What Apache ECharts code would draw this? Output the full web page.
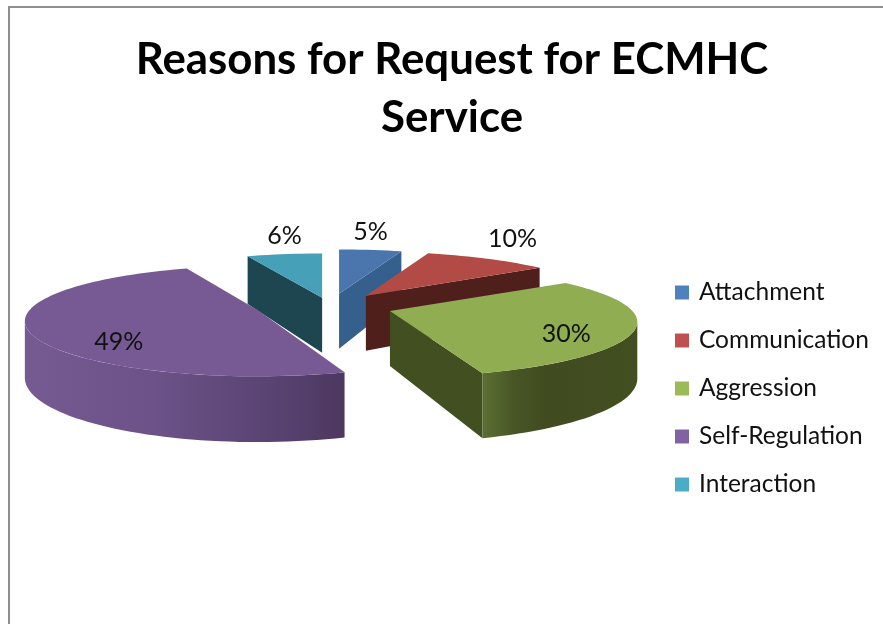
<!DOCTYPE html>
<html><head><meta charset="utf-8">
<style>html,body{margin:0;padding:0;background:#fff}#c{width:883px;height:624px}</style>
<script src="https://cdn.jsdelivr.net/npm/echarts@6/dist/echarts.min.js"></script>
</head><body><div id="c"></div>
<script>
const titleText = 'Reasons for Request for ECMHC\nService';
const categories = ['Attachment','Communication','Aggression','Self-Regulation','Interaction'];
const values = [5,10,30,49,6];
const labels = ['5%','10%','30%','49%','6%'];
const legendColors = ['#4f81bd','#c0504d','#9bbb59','#8064a2','#4bacc6'];
const topColors = ['#4a76ad','#b24a46','#90ad52','#775a93','#46a0b8'];
const sideColors = ['#355f8c','#4f1f1b','#424f21','#4d3860','#1e4650'];
const rimGradients = [null,null,
  [[0,'#5d6f33'],[0.2,'#485626'],[0.4,'#404c20'],[1,'#424f21']],
  [[0,'#765a92'],[0.4,'#6c5288'],[0.75,'#5a4474'],[1,'#4d3860']],
  null];
const explode = [58,61,63,77,42];
const explodeY = [0.25,0.25,0.15,0.08,0.25];
const widthScale = [1,1,1.01,0.95,1];
const drawOrder = [2,3,4,5,1];
const labelFactor = [1,1.25,0.73,0.62,1];
const labelLift = [-18,-12,10,20,-18];

const CX=330, CY=308, RX=240, RY=53, DEPTH=55, PERSP=0.2;
const total = values.reduce((a,b)=>a+b,0);
const starts = values.map((_,i)=>values.slice(0,i).reduce((a,b)=>a+b,0)/total*360);
const rad = d=>d*Math.PI/180;
const SILHOUETTE = Math.acos(-PERSP)*180/Math.PI;

function renderSlice(params, api){
  const i = params.seriesIndex;
  const a0 = starts[i], a1 = a0 + api.value(0)/total*360, mid=(a0+a1)/2;
  const ax = CX + explode[i]*Math.sin(rad(mid));
  const ay = CY - explode[i]*explodeY[i]*Math.cos(rad(mid));
  const proj = (deg,f=1,drop=0)=>{
    const u=f*Math.sin(rad(deg)), v=-f*Math.cos(rad(deg)), s=1/(1-PERSP*v);
    return [ax+RX*widthScale[i]*u*s, ay+RY*v*s+drop*DEPTH*Math.pow(s,0.8)];
  };
  const arc = (from,to,drop)=>{
    const n=Math.max(2,Math.ceil(Math.abs(to-from)/2)), p=[];
    for(let k=0;k<=n;k++) p.push(proj(from+(to-from)*k/n,1,drop));
    return p;
  };
  const children=[];
  const radialWall = deg => children.push({type:'polygon',z2:1,
    shape:{points:[[ax,ay],proj(deg),proj(deg,1,1),[ax,ay+DEPTH]]},
    style:{fill:sideColors[i]}});
  if(Math.sin(rad(a1))>1e-6) radialWall(a1);
  if(Math.sin(rad(a0))<-1e-6) radialWall(a0);
  const f0=Math.max(a0,SILHOUETTE), f1=Math.min(a1,360-SILHOUETTE);
  if(f1>f0){
    const stops=rimGradients[i];
    const fill = stops ? new echarts.graphic.LinearGradient(0,0,1,0,
      stops.map(s=>({offset:s[0],color:s[1]}))) : sideColors[i];
    children.push({type:'polygon',z2:2,
      shape:{points:arc(f0,f1,0).concat(arc(f1,f0,1))},style:{fill}});
  }
  children.push({type:'polygon',z2:3,
    shape:{points:[[ax,ay]].concat(arc(a0,a1,0))},style:{fill:topColors[i]}});
  const lp=proj(mid,labelFactor[i]);
  children.push({type:'text',z2:4,style:{text:labels[i],x:lp[0],y:lp[1]+labelLift[i],
    align:'center',verticalAlign:'middle',fill:'#111',font:'25px Lato'}});
  return {type:'group',children};
}

const chart = echarts.init(document.getElementById('c'),null,{renderer:'canvas'});
chart.setOption({
  animation:false,
  backgroundColor:'#fff',
  title:{text:titleText,left:447,top:26,textAlign:'center',
    textStyle:{fontFamily:'Lato',fontWeight:'bold',fontSize:43.8,lineHeight:58,color:'#000'}},
  legend:{orient:'vertical',left:670,top:275,icon:'rect',itemWidth:14,itemHeight:14,itemGap:23,
    data:categories,textStyle:{fontFamily:'Lato',fontSize:24.5,lineHeight:22,color:'#111',padding:[0,0,0,5]}},
  graphic:[{type:'polyline',shape:{points:[[9,624],[9,7],[883,7]]},style:{stroke:'#8e8e8e',lineWidth:2,fill:null},silent:true}],
  series:categories.map((name,i)=>({
    name,type:'custom',coordinateSystem:'none',z:drawOrder[i],
    itemStyle:{color:legendColors[i]},
    data:[[values[i]]],renderItem:renderSlice
  }))
});
</script></body></html>
